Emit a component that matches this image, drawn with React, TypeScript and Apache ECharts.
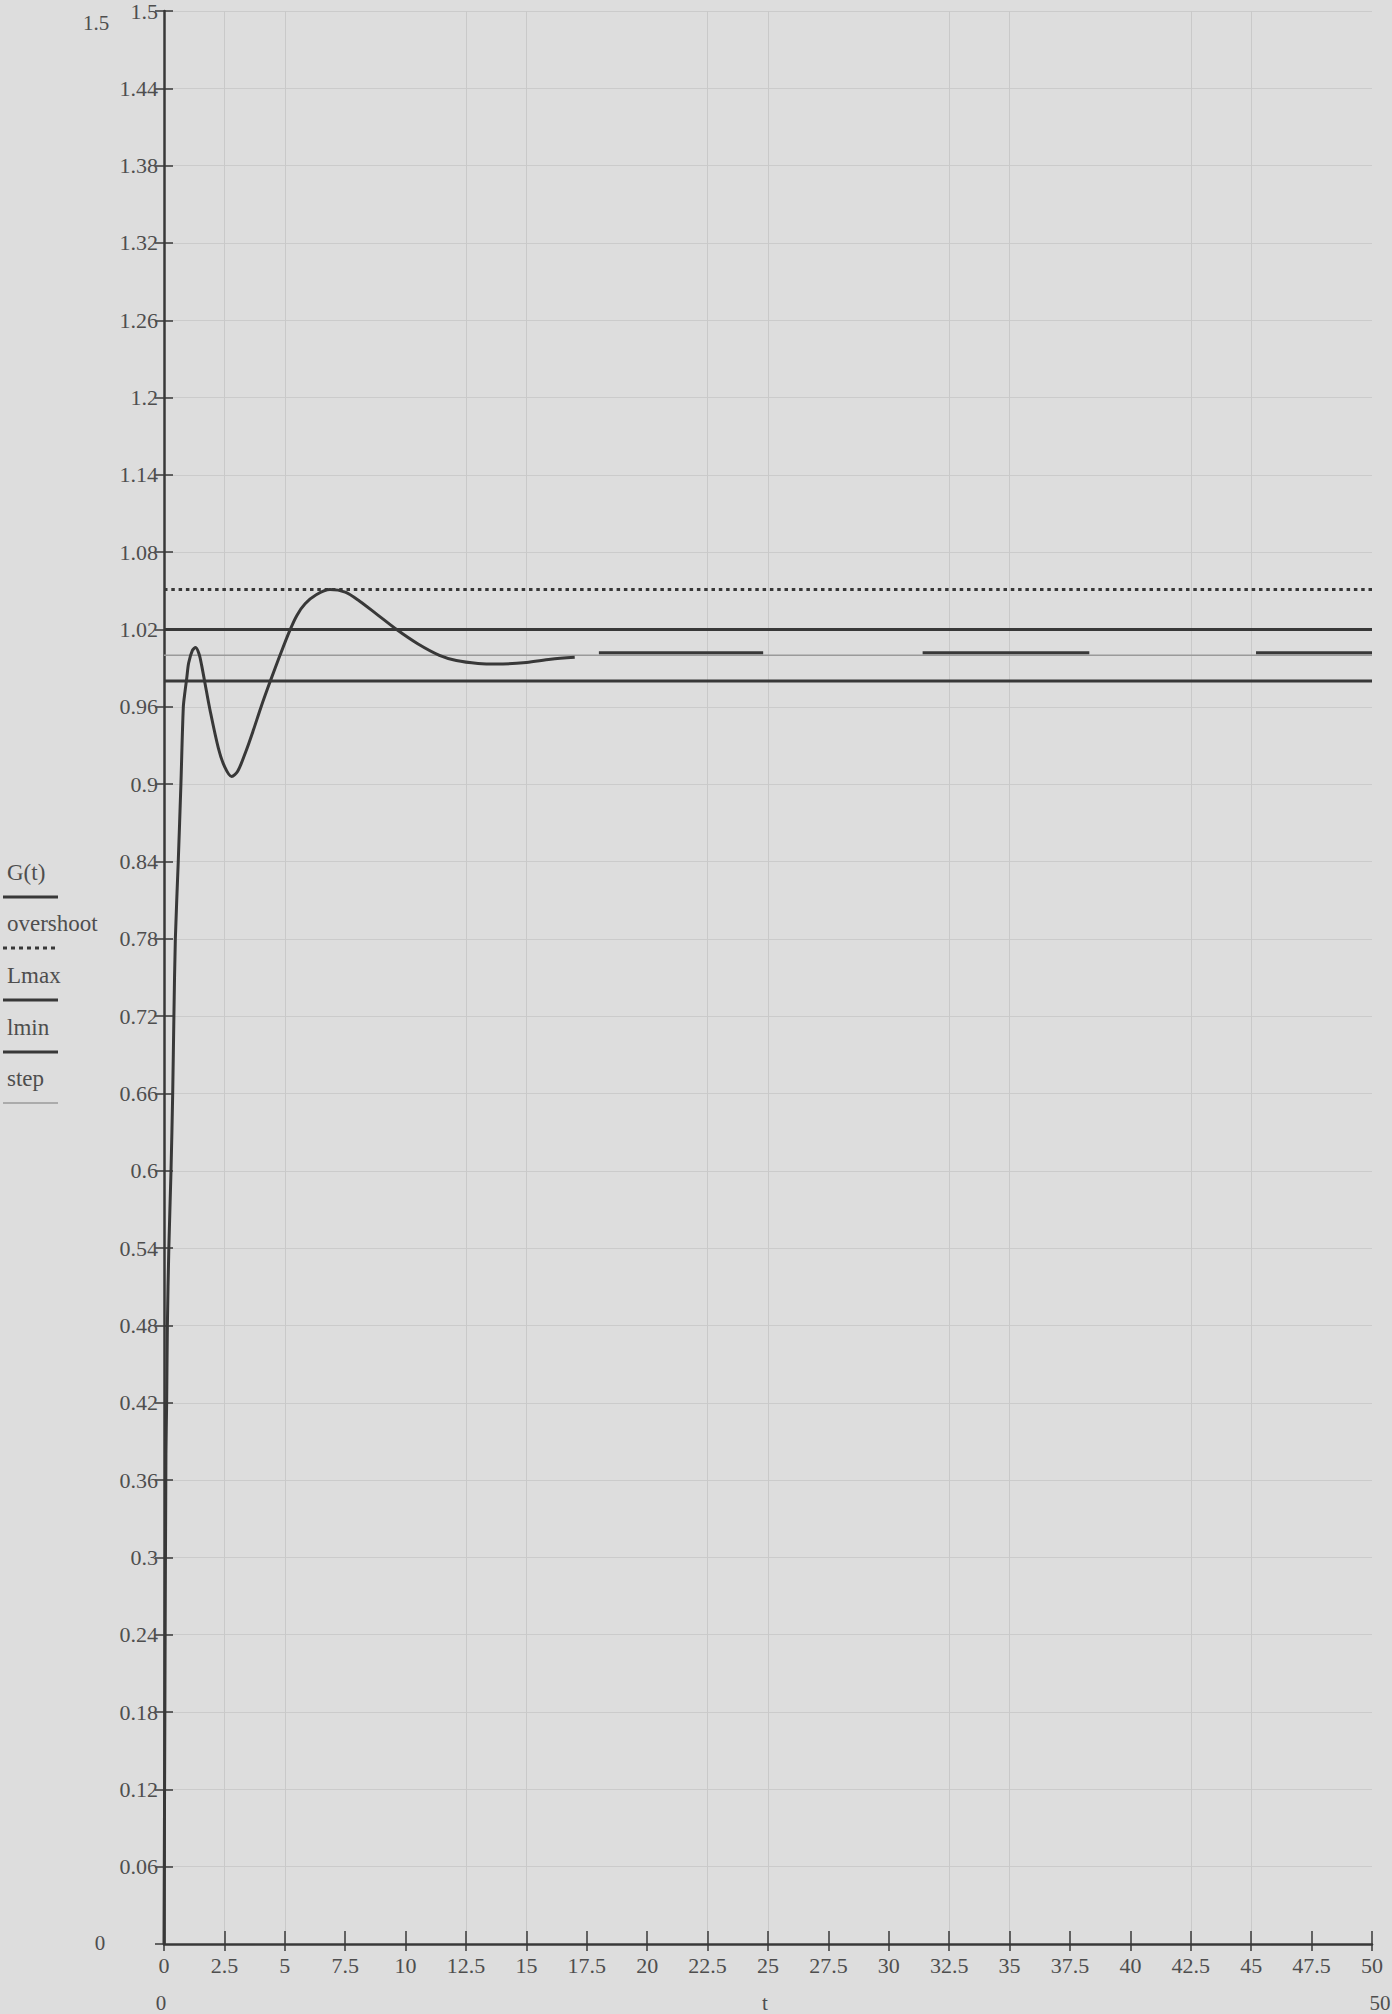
import React, { useEffect, useRef } from "react";
import * as echarts from "echarts";

// ---- data ----
const tMin = 0;
const tMax = 50;
const tStep = 2.5;
const gMin = 0;
const gMax = 1.5;
const gStep = 0.06;

// G(t) step response (null = gap)
const gTimes = [
  0, 0.04, 0.08, 0.11, 0.14, 0.2, 0.29, 0.36, 0.41, 0.47, 0.59, 0.7, 0.8, 0.87, 0.94, 1.02, 1.18, 1.31, 1.45, 1.55,
  1.7, 1.9, 2.25, 2.5, 2.8, 3.05, 3.4, 3.7, 4.0, 4.4, 4.8, 5.2, 5.5, 5.84, 6.3, 6.87, 7.5, 8.1, 8.8, 9.63, 10.5,
  11.4, 12.1, 13.0, 13.77, 15.0, 16.0, 17.0, 17.5, 18.0, 24.8, 28.0, 31.4, 38.3, 42.0, 45.2, 50,
];
const gValues = [
  0, 0.2, 0.38, 0.42, 0.48, 0.54, 0.6, 0.66, 0.72, 0.78, 0.84, 0.9, 0.96, 0.972, 0.982, 0.994, 1.004, 1.006, 1.001, 0.993,
  0.978, 0.958, 0.928, 0.914, 0.906, 0.91, 0.926, 0.942, 0.959, 0.98, 1.0, 1.019, 1.031, 1.04, 1.047, 1.051, 1.049, 1.042, 1.032, 1.02, 1.009,
  1.0, 0.996, 0.9937, 0.9932, 0.9945, 0.997, 0.9985, null, 1.002, 1.002, null, 1.002, 1.002, null, 1.002, 1.002,
];

const overshoot = 1.051;
const Lmax = 1.02;
const lmin = 0.98;
const stepLevel = 1.0;

const legendItems = ["G(t)", "overshoot", "Lmax", "lmin", "step"];

const FONT = "'Liberation Serif', 'Times New Roman', serif";
const TEXT = "#4e4e4e";
const DARK = "#383838";

export default function App() {
  const ref = useRef<HTMLDivElement>(null);

  useEffect(() => {
    document.body.style.margin = "0";
    document.body.style.background = "#dddddd";
    if (!ref.current) return;
    const chart = echarts.init(ref.current, null, { renderer: "svg" });

    const gData = gTimes.map((t, i) => [t, gValues[i] === null ? "-" : gValues[i]]);
    const hLine = (v: number) => [
      [tMin, v],
      [tMax, v],
    ];

    const legendY = [872, 923, 975, 1027, 1078];
    const legendGraphics: any[] = [];
    legendItems.forEach((name, i) => {
      legendGraphics.push({
        type: "text",
        x: 7,
        y: legendY[i],
        style: { text: name, fill: TEXT, font: `23px ${FONT}`, verticalAlign: "middle" },
      });
      const ly = legendY[i] + 25;
      const lineStyle: any = { stroke: i === 4 ? "#9a9a9a" : DARK, lineWidth: i === 4 ? 1.5 : 3 };
      if (i === 1) lineStyle.lineDash = [4, 4];
      legendGraphics.push({
        type: "line",
        shape: { x1: 3, y1: ly, x2: 58, y2: ly },
        style: lineStyle,
      });
    });

    const option: any = {
      animation: false,
      backgroundColor: "#dddddd",
      grid: { left: 164, right: 20, top: 5, bottom: 70, containLabel: false },
      xAxis: [
        {
          type: "value",
          min: tMin,
          max: tMax,
          interval: tStep,
          axisLine: { show: true, onZero: false, lineStyle: { color: DARK, width: 2.5 } },
          axisTick: { show: true, inside: true, length: 13, lineStyle: { color: DARK, width: 1.5 } },
          axisLabel: {
            show: true,
            margin: 10,
            color: TEXT,
            fontFamily: FONT,
            fontSize: 22,
            showMinLabel: true,
            showMaxLabel: true,
          },
          splitLine: {
            show: true,
            showMinLine: true,
            lineStyle: { color: ["transparent", "#c9c9c9", "#c9c9c9", "transparent"], width: 1 },
          },
        },
        {
          type: "value",
          min: tMin,
          max: tMax,
          interval: tStep,
          position: "bottom",
          axisLine: { show: false },
          axisTick: { show: true, inside: false, length: 7, lineStyle: { color: DARK, width: 1.5 } },
          axisLabel: { show: false },
          splitLine: { show: false },
        },
      ],
      yAxis: [
        {
          type: "value",
          min: gMin,
          max: gMax,
          interval: gStep,
          axisLine: { show: true, onZero: false, lineStyle: { color: DARK, width: 2.5 } },
          axisTick: { show: true, inside: true, length: 9, lineStyle: { color: DARK, width: 1.5 } },
          axisLabel: {
            show: true,
            margin: 6,
            color: TEXT,
            fontFamily: FONT,
            fontSize: 22,
            showMinLabel: false,
            showMaxLabel: true,
          },
          splitLine: { show: true, lineStyle: { color: "#cbcbcb", width: 1 } },
        },
        {
          type: "value",
          min: gMin,
          max: gMax,
          interval: gStep,
          position: "left",
          axisLine: { show: false },
          axisTick: { show: true, inside: false, length: 9, lineStyle: { color: DARK, width: 1.5 } },
          axisLabel: { show: false },
          splitLine: { show: false },
        },
      ],
      graphic: [
        ...legendGraphics,
        { type: "text", x: 96, y: 23, style: { text: "1.5", fill: TEXT, font: `21px ${FONT}`, align: "center", verticalAlign: "middle" } },
        { type: "text", x: 100, y: 1943, style: { text: "0", fill: TEXT, font: `21px ${FONT}`, align: "center", verticalAlign: "middle" } },
        { type: "text", x: 161, y: 2003, style: { text: "0", fill: TEXT, font: `21px ${FONT}`, align: "center", verticalAlign: "middle" } },
        { type: "text", x: 765, y: 2003, style: { text: "t", fill: TEXT, font: `21px ${FONT}`, align: "center", verticalAlign: "middle" } },
        { type: "text", x: 1380, y: 2003, style: { text: "50", fill: TEXT, font: `21px ${FONT}`, align: "center", verticalAlign: "middle" } },
      ],
      series: [
        {
          name: "step",
          type: "line",
          data: hLine(stepLevel),
          showSymbol: false,
          lineStyle: { color: "#9a9a9a", width: 1.5 },
          z: 2,
        },
        {
          name: "overshoot",
          type: "line",
          data: hLine(overshoot),
          showSymbol: false,
          lineStyle: { color: DARK, width: 3, type: [3.5, 3.8] },
          z: 3,
        },
        {
          name: "Lmax",
          type: "line",
          data: hLine(Lmax),
          showSymbol: false,
          lineStyle: { color: DARK, width: 3 },
          z: 3,
        },
        {
          name: "lmin",
          type: "line",
          data: hLine(lmin),
          showSymbol: false,
          lineStyle: { color: DARK, width: 3 },
          z: 3,
        },
        {
          name: "G(t)",
          type: "line",
          data: gData,
          showSymbol: false,
          smooth: 0.3,
          connectNulls: false,
          lineStyle: { color: DARK, width: 3 },
          z: 4,
        },
      ],
    };
    chart.setOption(option);
    return () => chart.dispose();
  }, []);

  return <div ref={ref} style={{ width: 1392, height: 2014 }} />;
}
